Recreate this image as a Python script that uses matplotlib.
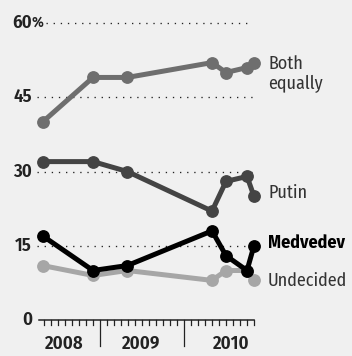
import matplotlib.pyplot as plt

# months counted from Jan 2008 (12 = Jan 2009, 24 = Jan 2010)
months = [3.8, 11, 15.9, 28, 30, 33, 34]
both_equally = [40, 49, 49, 52, 50, 51, 52]
putin = [32, 32, 30, 22, 28, 29, 25]
medvedev = [17, 10, 11, 18, 13, 10, 15]
undecided = [11, 9, 10, 8, 10, 10, 8]

y_ticks = [0, 15, 30, 45, 60]
y_labels = ["0", "15", "30", "45", "60"]
years = ["2008", "2009", "2010"]
year_pos = [6.7, 17.7, 30.6]

plt.rcParams['font.family'] = ['Fira Sans Condensed', 'DejaVu Sans']

W, H = 352, 356
bg = "#f0f0f0"
ink = "#222222"
fig = plt.figure(figsize=(W / 100, H / 100), dpi=100, facecolor=bg)

# axes spans 37..254 px horizontally, 0 at y=320 px, 60 at y=23 px
x0, x1 = 3.0, 34.0
ax = fig.add_axes([37 / W, (H - 320) / H, (254 - 37) / W, (320 - 23) / H])
ax.set_facecolor(bg)
ax.set_xlim(x0, x1)
ax.set_ylim(0, 60)
ax.axis("off")

# dotted gridlines
for t in y_ticks[1:]:
    start = 4.25 if t == 60 else x0
    end = 33.6 if t == 60 else 33.86
    ax.plot([start, end], [t, t], color=ink, lw=0.95,
            ls=(0, (1, 4.4)), zorder=1, clip_on=False)

series = [
    (undecided, "#a6a6a6", "Undecided", "normal", 7.9),
    (both_equally, "#6e6e6e", "Both\nequally", "normal", 49.7),
    (putin, "#444444", "Putin", "normal", 25.6),
    (medvedev, "#000000", "Medvedev", "bold", 15.5),
]
for vals, col, name, weight, ly in series:
    ax.plot(months, vals, color=col, lw=3.6, marker="o", ms=8.2,
            solid_joinstyle="round", zorder=3, clip_on=False)
    ax.text(x1 + 2.0, ly, name, color="#000000" if weight == "bold" else "#333333",
            fontsize=13, fontweight=weight, va="center", ha="left",
            linespacing=1.15, clip_on=False)

# base axis with monthly ticks
ax.plot([3.29, 34.04], [0, 0], color=ink, lw=1.1, clip_on=False, zorder=2)
per_px = 60 / (320 - 23)  # data units per pixel
for m in range(4, 35):
    length = 26 if m in (12, 24) else 5
    ax.plot([m, m], [0, -length * per_px], color=ink, lw=0.9,
            clip_on=False, zorder=2)

for lab, t in zip(y_labels, y_ticks):
    yf = (H - (320 - t * (297 / 60))) / H
    fig.text(32 / W, yf, lab, fontsize=13.5, fontweight="semibold",
             color=ink, va="center", ha="right")
    if t == 60:
        fig.text(32 / W, yf, "%", fontsize=11, fontweight="semibold",
                 color=ink, va="center", ha="left")

for lab, p in zip(years, year_pos):
    ax.text(p, -24 * per_px, lab, fontsize=13.5, fontweight="semibold",
            color=ink, ha="center", va="center", clip_on=False)

fig.savefig("out.png", dpi=100, facecolor=bg)
